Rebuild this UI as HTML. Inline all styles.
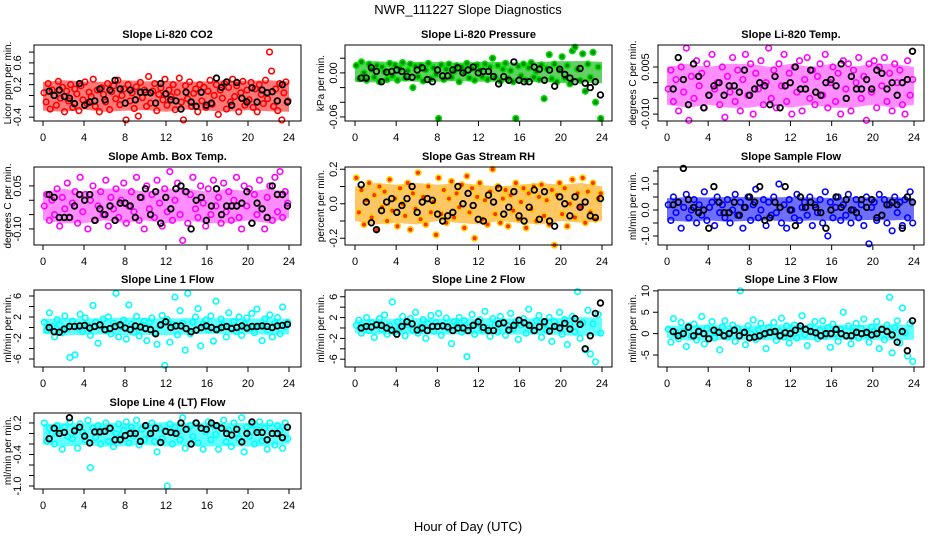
<!DOCTYPE html>
<html><head><meta charset="utf-8"><style>
html,body{margin:0;padding:0;background:#fff}
svg{display:block;font-family:"Liberation Sans",sans-serif}
</style></head><body>
<svg id="c" width="936" height="540" viewBox="0 0 936 540">
<text x="468" y="14" text-anchor="middle" font-size="13">NWR_111227  Slope Diagnostics</text>
<text x="468" y="531" text-anchor="middle" font-size="13">Hour of Day (UTC)</text>
</svg>
<script>
const xTicks=[0,4,8,12,16,20,24];
const titles=["Slope Li-820 CO2","Slope Li-820 Pressure","Slope Li-820 Temp.","Slope Amb. Box Temp.","Slope Gas Stream RH","Slope Sample Flow","Slope Line 1 Flow","Slope Line 2 Flow","Slope Line 3 Flow","Slope Line 4 (LT) Flow"];
const yTitles=["Licor ppm per min.","kPa per min.","degrees C per min.","degrees C per min.","percent per min.","ml/min per min.","ml/min per min.","ml/min per min.","ml/min per min.","ml/min per min."];
const yTickVals=[[-0.4,-0.2,0,0.2,0.4,0.6,0.8],[-0.06,-0.04,-0.02,0,0.02],[-0.01,-0.005,0,0.005],[-0.1,-0.05,0,0.05],[-0.2,-0.1,0,0.1,0.2],[-1,-0.5,0,0.5,1,1.5],[-6,-4,-2,0,2,4,6],[-6,-4,-2,0,2,4,6],[-5,0,5,10],[-1,-0.8,-0.6,-0.4,-0.2,0,0.2]];
const yTickLabels=[["-0.4","","","0.2","","0.6",""],["-0.06","","","0.00",""],["-0.010","","","0.005"],["-0.10","","","0.05"],["-0.2","","0.0","","0.2"],["-1.0","","0.0","","1.0",""],["-6","","-2","","2","","6"],["-6","","-2","","2","","6"],["-5","0","5","10"],["-1.0","","","-0.4","","","0.2"]];
const yLims=[[-0.47,0.93],[-0.0655,0.038],[-0.0122,0.012],[-0.156,0.116],[-0.239,0.213],[-1.346,1.654],[-7.52,7.14],[-7.5,7.3],[-7.8,10.2],[-1.057,0.39]];
const bandLo=[
[-0.28,-0.3,-0.26,-0.3,-0.28,-0.27,-0.3,-0.26,-0.28,-0.3,-0.27,-0.29,-0.3],
[-0.012,-0.013,-0.011,-0.012,-0.012,-0.011,-0.012,-0.012,-0.013,-0.012,-0.014,-0.013,-0.014],
[-0.007,-0.008,-0.007,-0.008,-0.008,-0.007,-0.008,-0.007,-0.008,-0.008,-0.007,-0.008,-0.007],
[-0.07,-0.08,-0.08,-0.07,-0.08,-0.07,-0.08,-0.07,-0.08,-0.08,-0.07,-0.08,-0.06],
[-0.1,-0.12,-0.11,-0.12,-0.1,-0.11,-0.12,-0.1,-0.11,-0.12,-0.1,-0.11,-0.1],
[-0.4,-0.45,-0.4,-0.45,-0.42,-0.4,-0.45,-0.4,-0.42,-0.4,-0.38,-0.4,-0.35],
[-1.2,-1.5,-1.4,-1.3,-1.5,-1.4,-1.5,-1.3,-1.2,-1.3,-1.2,-1.4,-1.3],
[-1.0,-1.2,-1.3,-1.2,-1.3,-1.2,-1.3,-1.2,-1.3,-1.2,-1.4,-1.5,-1.5],
[-1.0,-1.6,-1.5,-1.5,-1.6,-1.5,-1.6,-1.5,-1.4,-1.5,-1.5,-1.6,-1.4],
[-0.2,-0.25,-0.22,-0.25,-0.24,-0.22,-0.25,-0.22,-0.25,-0.24,-0.25,-0.24,-0.2]];
const bandHi=[
[0.25,0.28,0.26,0.25,0.28,0.26,0.27,0.25,0.26,0.28,0.27,0.28,0.26],
[0.015,0.016,0.014,0.015,0.015,0.014,0.015,0.015,0.014,0.015,0.016,0.016,0.015],
[0.005,0.006,0.005,0.006,0.006,0.005,0.006,0.005,0.006,0.005,0.006,0.006,0.005],
[0.03,0.04,0.03,0.04,0.04,0.03,0.04,0.04,0.03,0.04,0.03,0.04,0.03],
[0.1,0.12,0.11,0.12,0.11,0.12,0.11,0.1,0.11,0.12,0.11,0.12,0.1],
[0.45,0.5,0.48,0.5,0.5,0.48,0.5,0.48,0.46,0.5,0.48,0.5,0.45],
[1.6,1.8,1.7,1.8,1.9,1.8,1.7,1.8,1.7,1.8,1.7,1.8,1.6],
[1.5,1.8,1.7,1.9,1.8,1.9,1.8,1.9,1.8,1.9,2.0,2.1,2.0],
[1.8,2.0,2.1,2.0,1.9,2.1,2.2,2.0,2.1,2.0,2.1,2.2,2.0],
[0.18,0.2,0.19,0.2,0.2,0.19,0.22,0.2,0.21,0.2,0.2,0.2,0.18]];
const colorSeries=[
[0.05,-0.12,0.22,-0.25,0.1,0.0,-0.18,0.26,-0.05,0.15,-0.3,0.08,-0.1,0.2,-0.22,0.12,0.03,-0.28,0.18,-0.08,0.25,-0.15,0.06,-0.02,0.3,-0.2,0.1,-0.3,0.14,0.02,-0.12,0.22,-0.26,0.07,0.18,-0.06,0.28,-0.17,0.0,0.12,-0.45,0.2,-0.1,0.05,-0.24,0.16,-0.38,0.24,-0.04,0.1,-0.2,0.35,-0.14,0.08,0.22,-0.28,0.02,0.14,-0.08,0.3,-0.18,0.1,-0.02,0.2,-0.26,0.06,0.32,-0.12,-0.45,0.18,-0.06,0.25,-0.2,0.04,0.12,-0.3,0.2,-0.1,0.15,-0.22,0.08,0.28,-0.16,0.0,0.2,-0.35,0.1,-0.05,0.22,-0.25,0.15,-0.12,0.3,-0.02,0.18,-0.3,0.05,0.26,-0.18,0.1,-0.08,0.24,-0.22,0.12,-0.3,0.2,0.02,-0.15,0.28,-0.06,0.8,0.45,-0.2,0.12,-0.28,0.22,-0.45,0.05,0.25,-0.1],
[0.01,-0.008,0.015,0.0,-0.01,0.012,0.005,-0.006,0.01,-0.012,0.008,0.002,-0.009,0.013,-0.004,0.011,-0.01,0.006,0.014,-0.007,0.003,0.012,-0.02,0.009,-0.005,0.01,-0.011,0.004,0.013,-0.008,0.007,-0.002,-0.062,0.011,-0.009,0.005,0.012,-0.006,0.002,0.01,-0.012,0.008,0.0,0.013,-0.007,0.006,-0.01,0.011,0.004,-0.005,0.012,-0.009,0.008,0.02,-0.006,0.01,-0.011,0.005,0.013,-0.008,0.003,-0.012,-0.062,0.009,-0.004,0.012,-0.01,0.007,0.014,-0.006,0.002,-0.009,0.011,-0.035,0.006,0.025,-0.008,0.012,-0.012,0.004,0.022,-0.007,0.01,-0.015,0.03,0.035,0.005,-0.01,0.026,-0.025,0.012,-0.006,0.028,-0.04,0.008,-0.062],
[-0.002,0.004,-0.006,0.001,-0.009,0.005,-0.003,0.011,-0.012,0.002,-0.005,0.007,-0.001,0.003,-0.008,0.006,-0.004,0.009,-0.002,0.0,-0.007,0.005,-0.011,0.002,-0.003,0.008,-0.006,0.004,-0.009,0.001,0.009,-0.004,0.006,-0.01,0.003,-0.002,0.007,-0.007,0.0,0.011,-0.005,0.004,-0.008,0.006,-0.001,0.009,-0.006,0.003,-0.01,0.005,-0.003,0.007,-0.009,0.001,0.008,-0.005,0.004,-0.007,0.002,0.006,-0.004,0.009,-0.008,0.0,0.005,-0.006,0.003,-0.01,0.007,-0.002,0.006,-0.009,0.004,0.0,0.008,-0.005,0.002,-0.012,0.006,-0.003,0.007,-0.008,0.005,-0.001,0.008,-0.006,0.003,-0.009,0.006,0.0,0.004,-0.007,-0.01,0.007,-0.004,0.001],
[-0.02,0.02,-0.07,0.0,-0.05,0.04,-0.09,0.01,-0.03,0.06,-0.06,-0.01,0.03,-0.08,0.08,-0.04,0.02,-0.1,0.0,0.05,-0.07,-0.02,0.03,-0.05,0.07,-0.09,0.01,-0.03,0.04,-0.06,0.0,0.06,-0.08,-0.02,0.03,-0.04,0.08,-0.07,0.01,-0.1,0.05,-0.03,0.02,-0.06,0.07,-0.01,-0.09,0.04,-0.04,0.1,-0.07,0.0,0.06,-0.05,-0.14,0.03,-0.08,0.02,0.08,-0.03,-0.06,0.05,-0.01,-0.09,0.04,-0.05,0.07,-0.02,0.01,-0.08,0.06,-0.04,0.03,-0.07,0.0,0.08,-0.06,-0.1,0.05,-0.02,0.04,-0.08,0.02,-0.05,0.07,-0.03,-0.1,0.01,0.05,-0.07,0.08,-0.04,0.1,-0.06,0.03,-0.01],
[0.15,-0.05,0.08,-0.12,0.02,0.12,-0.08,0.05,-0.15,0.1,-0.02,0.07,-0.1,0.14,-0.04,0.03,-0.13,0.09,0.0,-0.07,0.12,-0.15,0.06,-0.03,0.18,-0.09,0.04,-0.12,0.1,-0.05,0.01,-0.18,0.15,-0.06,0.08,-0.11,0.03,0.13,-0.08,0.06,-0.02,0.11,-0.14,0.16,-0.05,0.09,-0.2,0.04,0.12,-0.09,0.02,-0.12,0.07,0.2,-0.06,0.1,-0.11,0.03,0.08,-0.13,0.05,-0.04,0.12,-0.09,0.01,0.09,-0.14,0.06,-0.03,0.1,-0.1,0.04,0.11,-0.07,0.02,-0.12,0.08,-0.24,0.05,0.12,-0.06,0.09,-0.13,0.0,0.14,-0.08,0.06,-0.02,0.15,-0.11,0.07,-0.05,0.12,-0.09,0.03,0.06],
[0.2,-0.4,0.5,-0.1,0.3,-0.7,0.1,0.6,-0.3,0.0,0.4,-0.5,0.2,-0.2,0.7,-0.4,0.1,0.3,-0.6,0.5,-0.1,0.2,-0.3,0.4,-0.5,0.0,0.6,-0.2,0.3,-0.7,0.1,0.5,-0.4,0.2,0.8,-0.3,0.0,0.4,-0.6,0.3,-0.2,0.5,-0.1,1.0,-0.5,0.2,-0.7,0.4,0.0,-0.3,0.6,-0.4,0.1,0.3,-0.2,0.5,-0.6,0.2,-0.1,0.4,-0.5,0.7,-1.0,0.3,-0.3,0.1,0.5,-0.4,0.2,-0.2,0.6,-0.5,0.0,0.4,-0.3,0.2,-0.6,0.5,-1.3,0.1,0.3,-0.4,0.6,-0.2,0.4,-0.5,0.2,-0.8,0.5,-0.1,0.3,-0.6,0.4,-0.3,0.7,-0.5],
[1.0,-0.5,2.8,0.2,-1.8,1.5,0.5,-1.0,2.2,-0.2,-5.7,1.2,-5.2,0.0,2.5,-0.8,1.8,0.3,-1.5,4.2,1.0,-3.0,0.5,1.6,-0.6,2.0,-1.2,0.8,6.5,-1.8,0.2,1.4,-2.2,4.3,0.6,-0.9,2.1,-1.6,0.4,1.2,-2.5,0.9,1.8,-1.0,-3.2,0.3,2.3,-7.2,1.5,-2.8,0.5,5.8,-1.4,3.2,0.8,-4.3,6.5,-1.2,1.0,2.0,3.6,-3.5,0.6,1.4,-0.4,2.2,-2.6,5.0,-0.2,1.6,0.4,-1.8,2.8,0.0,1.1,-0.8,2.0,-1.5,0.6,1.8,-0.2,2.7,-1.0,3.5,0.3,-2.5,1.6,-0.5,2.4,-1.8,0.8,1.9,-1.2,3.9,0.2,1.0],
[0.5,1.5,-1.0,0.2,2.0,-0.5,1.0,-1.8,0.8,1.8,-0.2,2.5,-1.2,0.4,5.0,-0.8,1.2,0.0,2.2,-1.5,0.6,1.8,-0.4,3.0,-1.0,0.2,1.6,-2.0,0.8,2.4,-0.6,1.0,2.8,-1.4,0.4,1.9,-0.2,-3.0,1.2,0.6,2.0,-0.8,1.4,-5.5,0.2,2.6,-1.2,0.8,1.6,-0.4,3.2,0.0,-1.6,1.8,0.6,-0.8,2.2,1.0,-1.4,0.4,2.8,-0.2,1.2,-2.2,0.6,1.8,-1.0,3.6,0.2,-0.6,1.4,2.4,-1.8,0.8,-0.4,2.0,-2.6,1.2,0.4,3.0,-1.2,1.6,-3.2,0.6,2.2,-0.8,7.0,-2.0,1.0,-4.2,3.4,-5.0,0.8,-6.5,2.6,-1.0],
[1.0,-2.0,3.5,0.2,-1.2,2.6,0.5,-3.0,1.8,-0.6,2.2,-1.5,0.8,4.0,-2.4,1.2,0.0,2.8,-1.0,0.6,-3.8,1.6,3.0,-0.8,0.4,2.0,-1.8,1.2,10.0,0.2,-2.6,1.8,0.0,3.2,-1.4,0.8,2.4,-0.4,-3.5,1.4,0.2,2.6,-1.6,0.6,3.6,-0.8,1.8,-2.2,0.4,2.0,-1.0,1.2,4.2,-0.2,-2.8,1.6,0.4,2.8,-1.2,0.8,3.0,-0.6,1.4,-3.2,2.2,0.0,-1.8,1.0,5.0,-0.4,1.8,-2.4,0.6,2.4,-1.0,1.2,3.4,-0.2,-2.0,1.6,0.4,2.8,-3.5,1.0,-1.4,2.0,8.5,-4.5,1.4,3.0,-2.2,6.0,0.2,-5.2,2.4,-6.5],
[0.2,-0.15,0.1,0.0,-0.2,0.15,0.05,-0.3,0.12,-0.05,0.22,-0.1,0.08,-0.28,0.18,0.02,-0.12,0.25,-0.65,0.1,-0.08,0.15,-0.2,0.05,0.2,-0.15,0.1,-0.25,0.0,0.18,-0.1,0.06,0.22,-0.18,0.12,-0.05,0.25,-0.22,0.08,-0.12,0.15,-0.02,0.2,-0.15,-0.35,0.1,-0.1,0.05,-1.0,0.18,-0.2,0.12,0.02,-0.12,0.3,-0.28,0.08,0.15,-0.06,0.2,-0.18,0.1,-0.3,0.04,0.22,-0.12,0.16,-0.02,-0.3,0.1,0.25,-0.16,0.06,-0.25,0.2,0.0,-0.1,0.3,-0.35,0.12,-0.05,0.18,-0.2,0.08,0.22,-0.14,0.1,-0.3,0.2,0.0,-0.22,0.15,0.05,-0.28,0.2,-0.1]];
const blackSeries=[
[0.08,0.0,0.1,-0.02,-0.05,-0.15,0.22,-0.18,-0.12,-0.1,0.12,-0.08,0.1,0.28,0.12,-0.14,0.1,-0.08,0.06,0.06,0.05,-0.14,0.22,0.03,-0.08,-0.1,-0.25,0.06,-0.12,-0.2,0.06,-0.18,-0.14,0.32,0.15,0.25,-0.18,0.24,-0.05,-0.12,0.14,-0.12,0.1,0.05,0.07,-0.1,0.2,-0.12],
[-0.007,-0.007,0.007,0.002,-0.012,0.001,0.002,0.004,0.002,-0.005,-0.006,0.004,0.007,-0.009,-0.012,0.004,-0.004,-0.004,0.004,0.007,0.0,0.004,0.008,0.0,0.002,0.002,-0.005,-0.015,-0.005,-0.01,0.015,-0.01,-0.012,-0.012,0.008,0.005,-0.01,0.004,-0.018,0.005,-0.002,-0.007,-0.012,0.006,-0.014,-0.02,-0.012,-0.03],
[-0.002,0.008,0.001,-0.007,0.006,0.002,-0.008,-0.004,-0.001,0.0,-0.004,-0.001,-0.001,-0.003,0.004,-0.004,-0.002,0.0,-0.001,-0.007,0.002,-0.008,-0.001,0.0,0.005,-0.002,-0.002,0.004,-0.003,-0.004,0.0,0.001,-0.001,0.006,-0.005,0.002,-0.002,-0.002,0.001,-0.002,0.004,0.003,-0.002,0.0,-0.004,0.0,0.001,0.01],
[0.02,0.01,-0.06,-0.06,-0.06,-0.02,0.02,0.0,0.02,-0.07,-0.03,-0.05,-0.02,-0.07,-0.01,-0.01,-0.02,-0.06,0.01,0.04,-0.05,0.03,-0.08,0.01,-0.03,0.04,0.05,0.03,-0.1,0.0,0.01,-0.07,-0.02,0.04,-0.05,-0.02,-0.02,-0.02,-0.01,0.03,-0.08,-0.01,-0.03,-0.06,0.05,0.02,0.02,-0.02],
[0.11,0.01,-0.11,-0.15,-0.04,0.01,0.03,-0.05,-0.01,0.03,0.1,-0.05,0.01,0.03,0.02,-0.06,-0.1,-0.07,-0.05,0.1,0.0,0.06,-0.01,-0.09,-0.1,0.05,0.01,0.09,-0.06,-0.02,0.07,-0.07,-0.1,-0.02,0.08,-0.09,0.07,-0.1,-0.13,0.04,0.0,-0.07,0.04,-0.02,0.01,-0.07,-0.08,0.03],
[0.2,0.3,1.6,0.4,0.1,-0.1,0.0,-0.7,0.9,0.3,-0.1,-0.1,0.3,-0.2,0.1,0.5,0.3,0.9,-0.4,-0.3,0.3,0.1,0.9,0.0,-0.6,0.5,0.1,0.3,0.1,-0.1,-0.7,0.0,0.5,0.1,0.4,0.0,-0.1,0.4,0.1,0.4,-0.3,-0.2,0.2,0.3,0.2,-0.7,0.5,0.3],
[0.0,-0.8,-0.9,-0.3,0.2,0.2,0.3,0.4,-0.1,0.2,0.5,-0.4,-0.2,0.2,0.5,-0.1,-0.4,0.3,0.1,-0.2,-0.4,-1.2,0.5,1.1,0.0,0.3,0.3,-0.2,-0.8,-0.5,0.0,0.3,0.0,-0.4,0.0,0.2,-0.2,0.0,0.3,-0.1,0.2,0.2,0.3,0.2,0.0,0.3,0.4,0.6],
[0.0,0.3,0.2,0.6,0.5,0.0,-0.4,-1.2,0.3,1.2,0.8,-0.4,0.0,-0.5,0.3,0.3,0.4,0.2,-0.5,0.0,0.0,-0.5,0.5,1.2,0.1,-0.5,-0.5,0.8,1.0,-0.4,0.5,1.5,1.0,0.5,-0.5,0.2,1.2,-0.6,0.3,0.0,0.9,-0.2,1.8,0.7,-4.0,-1.5,2.8,4.8],
[0.5,-0.5,0.0,1.5,-0.5,0.5,0.0,-1.2,0.8,0.3,-0.5,0.0,0.8,-0.5,0.3,-1.0,-0.8,-0.5,0.0,0.3,0.5,-0.5,0.2,0.0,0.8,1.8,1.0,0.5,0.2,-0.5,0.0,0.0,1.0,0.0,-0.5,-0.5,0.3,0.0,0.3,-0.3,0.0,1.0,0.5,-0.3,-2.0,0.5,-4.0,3.0],
[-0.1,0.1,0.0,0.02,0.3,0.05,0.12,-0.05,-0.18,0.03,0.03,0.04,0.1,-0.12,-0.12,-0.04,0.0,0.0,-0.15,0.15,0.0,0.1,-0.17,0.04,0.02,0.0,0.2,0.08,-0.2,0.2,0.1,0.08,0.2,0.15,0.1,0.0,-0.03,0.08,-0.16,0.0,0.22,0.02,0.02,-0.12,0.0,0.0,-0.08,0.12]];

const NS="http://www.w3.org/2000/svg";
const svg=document.getElementById('c');
const cols=[{l:34,r:301,x0:43,x24:289,yl:7,tl:17},{l:345,r:612,x0:355,x24:602,yl:320,tl:333},{l:658,r:924,x0:667,x24:914,yl:632,tl:645}];
const rows=[{t:45,b:121},{t:167,b:245},{t:290,b:367},{t:413,b:489}];
const colorsStroke=["#ff0000","#00e000","#ff00ff","#ff00ff","#ffd000","#0000ff","#00ffff","#00ffff","#00ffff","#00ffff"];
const colorsFill=["none","#008800","none","none","#ff3000","none","none","none","none","none"];
const bandFill=["#ff2020","#22bb22","#ff30ff","#ff30ff","#ffa000","#2020ff","#20ffff","#20ffff","#20ffff","#20ffff"];
const bandOpacity=[0.6,0.7,0.55,0.55,0.6,0.65,0.7,0.7,0.7,0.7];
function mk(tag,attrs,parent){const e=document.createElementNS(NS,tag);for(const k in attrs)e.setAttribute(k,attrs[k]);(parent||svg).appendChild(e);return e;}
titles.forEach((title,p)=>{
  const c=cols[p%3],r=rows[Math.floor(p/3)];
  const g=mk('g',{});
  
  
  const xs=h=>c.x0+h*(c.x24-c.x0)/24;
  const [lo,hi]=yLims[p];
  const ys=v=>r.b-(v-lo)/(hi-lo)*(r.b-r.t);
  const t=mk('text',{x:(c.l+c.r)/2,y:r.t-7,'text-anchor':'middle','font-size':11,'font-weight':'bold'},g);
  t.textContent=title;
  
  
  const hiPts=bandHi[p].map((v,i)=>xs(i*2)+','+ys(v));
  const loPts=bandLo[p].map((v,i)=>xs(i*2)+','+ys(v)).reverse();
  const band=mk('polygon',{points:hiPts.concat(loPts).join(' '),fill:bandFill[p],'fill-opacity':bandOpacity[p],stroke:'none'},g);
  
  
  const cs=colorSeries[p];
  cs.forEach((v,i)=>{
    const h=(i+0.5)*24/cs.length;
    const pt=mk('circle',{cx:xs(h),cy:ys(v),r:2.8,fill:colorsFill[p],stroke:colorsStroke[p],'stroke-width':1.6},g);
    
    
  });
  const bs=blackSeries[p];
  bs.forEach((v,i)=>{
    const h=0.6+i*(23.25/(bs.length-1));
    const pt=mk('circle',{cx:xs(h),cy:ys(v),r:2.8,fill:'none',stroke:'#000','stroke-width':1.8},g);
    
    
  });
  const box=mk('rect',{x:c.l,y:r.t,width:c.r-c.l,height:r.b-r.t,fill:'none',stroke:'#000','stroke-width':1},g);
  
  
  xTicks.forEach(v=>{
    mk('line',{x1:xs(v),x2:xs(v),y1:r.b,y2:r.b+5,stroke:'#000'},g);
    const tl=mk('text',{x:xs(v),y:r.b+20,'text-anchor':'middle','font-size':11},g);
    tl.textContent=v;
    
    
  });
  yTickVals[p].forEach((v,i)=>{
    mk('line',{x1:c.l-5,x2:c.l,y1:ys(v),y2:ys(v),stroke:'#000'},g);
    const lab=yTickLabels[p][i];
    if(lab){
      const yl=mk('text',{x:0,y:0,'text-anchor':'middle','font-size':11,transform:`translate(${c.tl+4},${ys(v)}) rotate(-90)`},g);
      yl.textContent=lab;
      
      
    }
  });
  const ya=mk('text',{x:0,y:0,'text-anchor':'middle','font-size':10,transform:`translate(${c.yl+4},${(r.t+r.b)/2}) rotate(-90)`},g);
  ya.textContent=yTitles[p];
  
  
});
</script>
</body></html>
